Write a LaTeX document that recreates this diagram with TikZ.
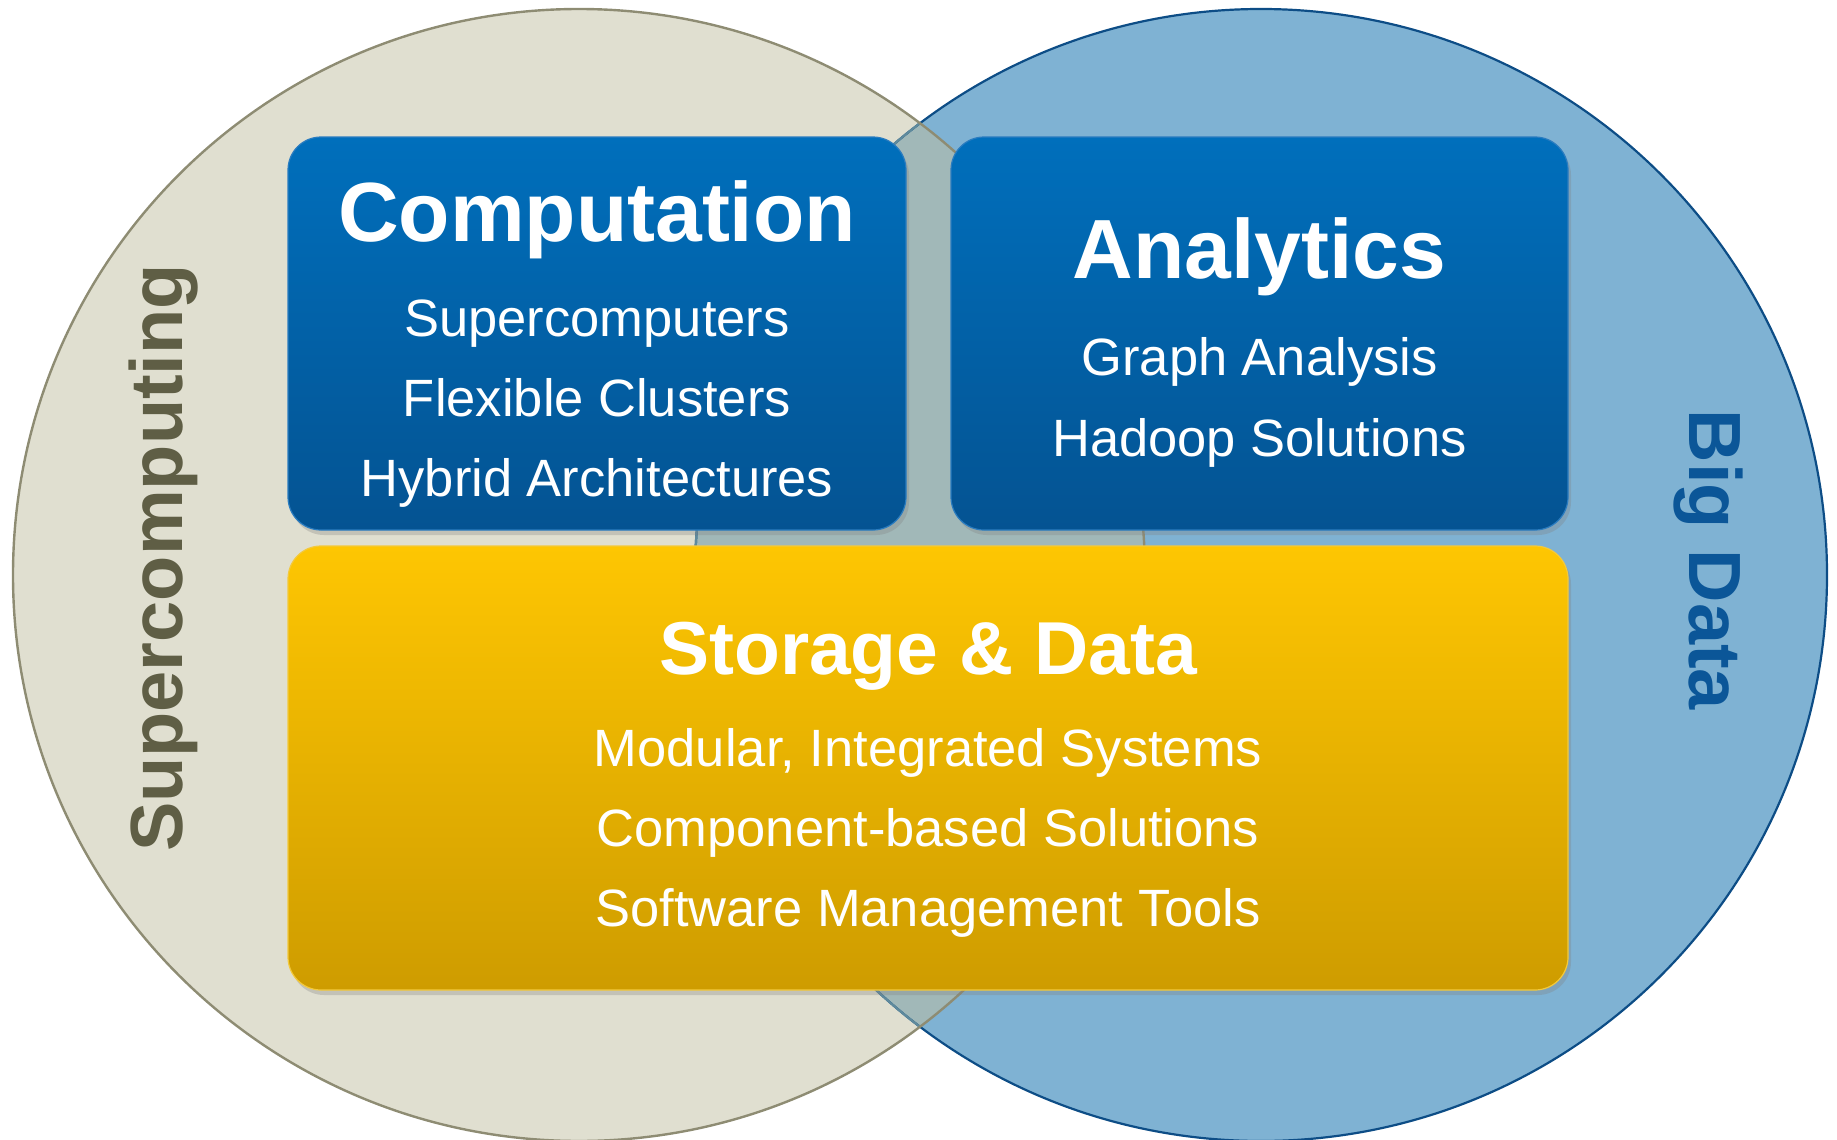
\documentclass[tikz,border=0pt]{standalone}
\usepackage{fontspec}
\setmainfont{Liberation Sans}
\usetikzlibrary{shadows}

\definecolor{scfill}{HTML}{E0DFD0}
\definecolor{scedge}{HTML}{8E8C73}
\definecolor{sctext}{HTML}{5F5E45}
\definecolor{bdfill}{HTML}{7FB2D3}
\definecolor{bdedge}{HTML}{0D4D86}
\definecolor{bdtext}{HTML}{0B5698}
\definecolor{ovfill}{HTML}{A1B8B8}
\definecolor{ovedge}{HTML}{5F8A9C}
\definecolor{bluetop}{HTML}{006FBC}
\definecolor{bluebot}{HTML}{045392}
\definecolor{blueedge}{HTML}{2A7CC0}
\definecolor{goldtop}{HTML}{FEC602}
\definecolor{goldbot}{HTML}{CE9C00}
\definecolor{goldedge}{HTML}{F3C93C}

\tikzset{
  panel/.style={rounded corners=33pt, line width=1.2pt, inner sep=0pt,
    drop shadow={shadow xshift=3pt, shadow yshift=-5pt, opacity=0.3}},
  bluepanel/.style={panel, draw=blueedge, top color=bluetop, bottom color=bluebot},
  goldpanel/.style={panel, draw=goldedge, top color=goldtop, bottom color=goldbot},
  head/.style={text=white, font=\bfseries\fontsize{84}{84}\selectfont, anchor=base, inner sep=0pt},
  item/.style={text=white, font=\fontsize{52.5}{52.5}\selectfont, anchor=base, inner sep=0pt},
  side/.style={font=\bfseries\fontsize{74}{74}\selectfont, anchor=base, inner sep=0pt}
}

\begin{document}
\begin{tikzpicture}[x=1pt, y=-1pt]
    \useasboundingbox (0,0) rectangle (1837,1140);
    \coordinate (lc) at (579,575); \coordinate (rc) at (1261,575);

    \fill[scfill] (lc) circle (566pt);
    \fill[bdfill] (rc) circle (566pt);
    \begin{scope}
        \clip (lc) circle (566pt);
        \fill[ovfill] (rc) circle (566pt);
    \end{scope}
    \draw[bdedge, line width=2.2pt] (rc) circle (566pt);
    \begin{scope}
        \clip (lc) circle (566pt);
        \draw[ovedge, line width=2.2pt] (rc) circle (566pt);
    \end{scope}
    \draw[scedge, line width=2.4pt] (lc) circle (566pt);

    \node[side, text=sctext, rotate=90] (sclabel) at (182,558) {Supercomputing};
    \node[side, text=bdtext, rotate=-90] (bdlabel) at (1689,560) {Big Data};

    \node[bluepanel, minimum width=618pt, minimum height=393pt] (comp) at (597,333.5) {};
    \node[bluepanel, minimum width=617pt, minimum height=393pt] (anal) at (1259.5,333.5) {};
    \node[goldpanel, minimum width=1280pt, minimum height=444pt] (stor) at (928,768) {};

    \node[head] (comptitle) at (597,241) {Computation};
    \node[item] (comp1) at (597,336) {Supercomputers};
    \node[item] (comp2) at (597,416) {Flexible Clusters};
    \node[item] (comp3) at (597,496) {Hybrid Architectures};

    \node[head] (analtitle) at (1259.5,278) {Analytics};
    \node[item] (anal1) at (1259.5,375) {Graph Analysis};
    \node[item] (anal2) at (1259.5,456) {Hadoop Solutions};

    \node[head, font=\bfseries\fontsize{75}{75}\selectfont] (stortitle) at (928,674) {Storage \& Data};
    \node[item] (stor1) at (928,766) {Modular, Integrated Systems};
    \node[item] (stor2) at (928,846) {Component-based Solutions};
    \node[item] (stor3) at (928,926) {Software Management Tools};
\end{tikzpicture}
\end{document}
